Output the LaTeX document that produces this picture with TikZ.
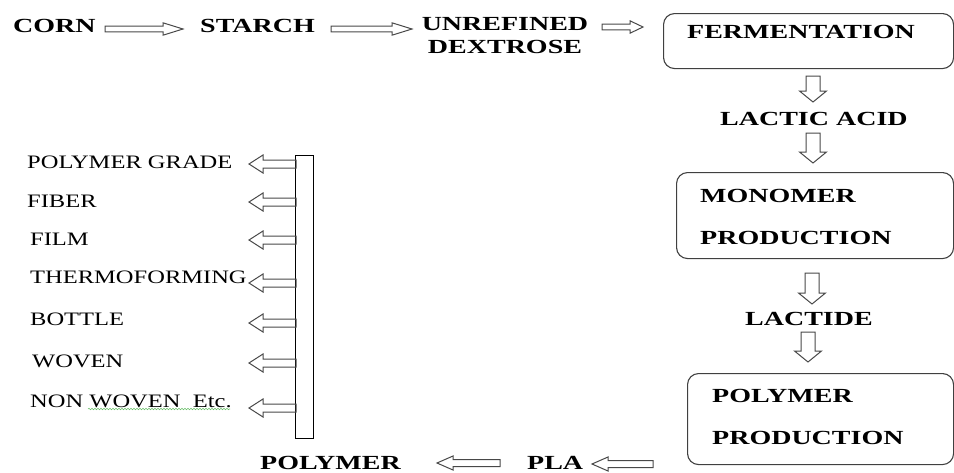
\documentclass[tikz,border=0pt]{standalone}
\usepackage{fontspec}
\setmainfont{Liberation Serif}
\newfontfamily\headfont{Liberation Serif}[FakeStretch=1.40]
\newfontfamily\itemfont{Liberation Serif}[FakeStretch=1.29]
\usetikzlibrary{calc,decorations.pathmorphing}
\definecolor{boxgray}{HTML}{404040}
\definecolor{arrowgray}{HTML}{484848}
\definecolor{spellgreen}{HTML}{6CC06C}

\tikzset{
  head/.style={font=\headfont\bfseries\fontsize{20}{23}\selectfont, inner sep=0pt, anchor=base west},
  item/.style={font=\itemfont\fontsize{19}{22}\selectfont, inner sep=0pt, anchor=base west},
  procbox/.style={draw=boxgray, line width=1.1pt, rounded corners=11pt, anchor=north west, inner sep=0pt},
  % hollow block arrow: shaft half-width / head half-width / head length
  fat/.style n args={3}{draw=arrowgray, line width=1pt, line join=miter,
    to path={let \p1=(\tikztostart), \p2=(\tikztotarget),
      \n1={veclen(\x2-\x1,\y2-\y1)}, \n2={atan2(\y2-\y1,\x2-\x1)} in
      {[shift={(\p1)}, rotate=\n2]
        (0,#1) -- ({\n1-#3},#1) -- ({\n1-#3},#2) -- (\n1,0)
        -- ({\n1-#3},-#2) -- ({\n1-#3},-#1) -- (0,-#1) -- cycle}}},
  rowarrow/.style={fat={2.9}{6.2}{20}},
  shortarrow/.style={fat={2.9}{6.2}{13}},
  downarrow/.style={fat={7}{13.5}{11}},
  outarrow/.style={fat={4}{9}{14}},
  basearrow/.style={fat={3.5}{7}{16}}
}

\begin{document}
\begin{tikzpicture}[x=1pt,y=-1pt]
\useasboundingbox (0,0) rectangle (954,472);

% top row
\node[head] (corn) at (13,32) {CORN};
\node[head] (starch) at (200,32) {STARCH};
\node[head, anchor=base, align=center] (dex) at (505,53) {UNREFINED\\DEXTROSE};

% process boxes
\node[procbox, minimum width=290pt, minimum height=55pt] (ferm) at (663,13) {};
\node[head] (fermt) at (687,38) {FERMENTATION};
\node[head] (lactic) at (720,125) {LACTIC ACID};
\node[procbox, minimum width=277pt, minimum height=86pt] (mono) at (676,172) {};
\node[head] (monot1) at (700,202) {MONOMER};
\node[head] (monot2) at (700,244) {PRODUCTION};
\node[head] (lactide) at (745,325) {LACTIDE};
\node[procbox, minimum width=266pt, minimum height=91pt] (poly) at (687,373) {};
\node[head] (polyt1) at (712,402) {POLYMER};
\node[head] (polyt2) at (712,444) {PRODUCTION};

% bottom row
\node[head] (pla) at (527,469) {PLA};
\node[head] (polymer) at (260,469) {POLYMER};

% distribution bar and uses
\node[draw, line width=1pt, minimum width=18pt, minimum height=283pt, anchor=north west, inner sep=0pt] (bar) at (295,155) {};
\node[item] (u1) at (27,168) {POLYMER GRADE};
\node[item] (u2) at (27,207) {FIBER};
\node[item] (u3) at (30,245) {FILM};
\node[item] (u4) at (30,283) {THERMOFORMING};
\node[item] (u5) at (30,325) {BOTTLE};
\node[item] (u6) at (32,367) {WOVEN};
\node[item] (u7) at (30,407) {NON WOVEN\ \ Etc.};
\draw[spellgreen, line width=0.6pt, decorate,
      decoration={snake, amplitude=0.7pt, segment length=3pt}] (88,409) -- (230,409);

% arrow end points
\coordinate (a1s) at (105,29);  \coordinate (a1e) at (183,29);
\coordinate (a2s) at (331,29);  \coordinate (a2e) at (412,29);
\coordinate (a3s) at (602,27);  \coordinate (a3e) at (643,27);
\coordinate (d1s) at (813,76);  \coordinate (d1e) at (813,102);
\coordinate (d2s) at (813,133); \coordinate (d2e) at (813,163);
\coordinate (d3s) at (812,273); \coordinate (d3e) at (812,304);
\coordinate (d4s) at (808,332); \coordinate (d4e) at (808,362);
\coordinate (b1s) at (653,464); \coordinate (b1e) at (592,464);
\coordinate (b2s) at (500,463); \coordinate (b2e) at (437,463);

\draw[rowarrow] (a1s) to (a1e);
\draw[rowarrow] (a2s) to (a2e);
\draw[shortarrow] (a3s) to (a3e);
\draw[downarrow] (d1s) to (d1e);
\draw[downarrow] (d2s) to (d2e);
\draw[downarrow] (d3s) to (d3e);
\draw[downarrow] (d4s) to (d4e);
\draw[basearrow] (b1s) to (b1e);
\draw[basearrow] (b2s) to (b2e);

% arrows leaving the bar
\foreach \k/\yy in {1/164, 2/202, 3/240, 4/283, 5/323, 6/363, 7/408} {
  \coordinate (o\k s) at (296,\yy);
  \coordinate (o\k e) at (249,\yy);
  \draw[outarrow] (o\k s) to (o\k e);
}
\end{tikzpicture}
\end{document}
